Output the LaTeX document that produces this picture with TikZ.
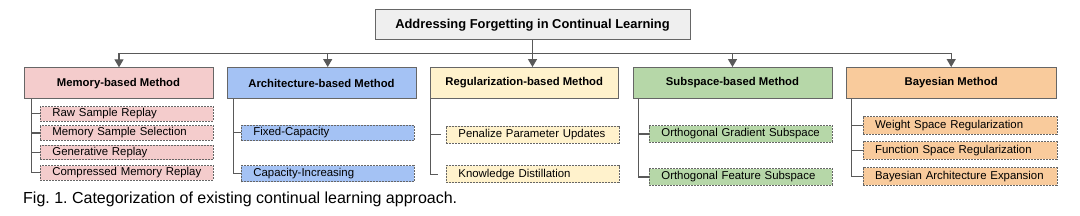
\documentclass[tikz,border=0pt]{standalone}
\usepackage{fontspec}
\setmainfont{Liberation Sans}
\usetikzlibrary{arrows.meta}
\frenchspacing
\definecolor{rootfill}{HTML}{EFEFEF}
\definecolor{memfill}{HTML}{F4CCCC}
\definecolor{archfill}{HTML}{A4C2F4}
\definecolor{regfill}{HTML}{FFF2CC}
\definecolor{subfill}{HTML}{B6D7A8}
\definecolor{bayfill}{HTML}{F9CB9C}
\definecolor{bordergray}{HTML}{666666}
\definecolor{linegray}{HTML}{595959}
\tikzset{
  rootbox/.style={draw=bordergray, fill=rootfill, line width=0.9pt, inner sep=0pt,
    minimum width=315pt, minimum height=29.5pt, font=\bfseries\fontsize{12.9}{15}\selectfont},
  hdrbox/.style={draw=bordergray, line width=0.9pt, inner sep=0pt,
    minimum height=31pt, font=\bfseries\fontsize{11.3}{13}\selectfont},
  leafbox/.style={draw=bordergray, dash pattern=on 2pt off 1pt, line width=0.8pt,
    inner xsep=12pt, inner ysep=0pt, align=left, anchor=west,
    font=\fontsize{11.4}{13}\selectfont},
  conn/.style={draw=linegray, line width=1.2pt},
  arr/.style={conn, -{Triangle[width=9pt,length=8pt]}},
  tree/.style={draw=linegray, line width=1.1pt},
}
\begin{document}
\begin{tikzpicture}[x=1pt, y=-1pt]
\useasboundingbox (0,0) rectangle (1080,216);
% root
\node[rootbox] (root) at (532.5,24.7) {Addressing Forgetting in Continual Learning};
% headers
\node[hdrbox, fill=memfill,  minimum width=189pt] (m) at (118.5,83.3) {Memory-based Method};
\node[hdrbox, fill=archfill, minimum width=189pt] (a) at (321.5,83.0) {Architecture-based Method};
\node[hdrbox, fill=regfill,  minimum width=188.5pt] (r) at (524.2,83.0) {Regularization-based Method};
\node[hdrbox, fill=subfill,  minimum width=199pt] (s) at (732.5,83.0) {Subspace-based Method};
\node[hdrbox, fill=bayfill,  minimum width=210.5pt] (b) at (951.2,83.0) {Bayesian Method};
% bar coordinates
\coordinate (b1) at (119,53.3);
\coordinate (b2) at (327.7,53.3);
\coordinate (b3) at (532.5,53.3);
\coordinate (b4) at (732.5,53.3);
\coordinate (b5) at (951.2,53.3);
\draw[conn] (root.south) -- (b3);
\draw[conn] (b1) -- (b5);
\draw[arr] (b1) -- (b1 |- m.north);
\draw[arr] (b2) -- (b2 |- a.north);
\draw[arr] (b3) -- (b3 |- r.north);
\draw[arr] (b4) -- (b4 |- s.north);
\draw[arr] (b5) -- (b5 |- b.north);
% memory leaves
\node[leafbox, fill=memfill, text width=149pt, minimum height=14.3pt] (m1) at (40,113.8) {Raw Sample Replay};
\node[leafbox, fill=memfill, text width=149pt, minimum height=14.3pt] (m2) at (40,133.0) {Memory Sample Selection};
\node[leafbox, fill=memfill, text width=149pt, minimum height=14.3pt] (m3) at (40,152.4) {Generative Replay};
\node[leafbox, fill=memfill, text width=149pt, minimum height=14.3pt] (m4) at (40,172.9) {Compressed Memory Replay};
\coordinate (mv) at ([xshift=8pt]m.south west);
\draw[tree] (mv) |- (m4.west);
\draw[tree] (mv |- m1.west) -- (m1.west);
\draw[tree] (mv |- m2.west) -- (m2.west);
\draw[tree] (mv |- m3.west) -- (m3.west);
% architecture leaves
\node[leafbox, fill=archfill, text width=149pt, minimum height=15.5pt] (a1) at (241,132.8) {Fixed-Capacity};
\node[leafbox, fill=archfill, text width=149pt, minimum height=16pt] (a2) at (241,173.8) {Capacity-Increasing};
\coordinate (av) at ([xshift=7pt]a.south west);
\draw[tree] (av) |- (a2.west);
\draw[tree] (av |- a1.west) -- (a1.west);
% regularization leaves
\node[leafbox, fill=regfill, text width=148.5pt, minimum height=17pt] (r1) at (446,134.5) {Penalize Parameter Updates};
\node[leafbox, fill=regfill, text width=148.5pt, minimum height=17pt] (r2) at (446,174.2) {Knowledge Distillation};
\coordinate (rv) at ([xshift=1pt]r.south west);
\draw[tree] (rv) |- ([xshift=-8pt]r2.west);
\draw[tree] (rv |- r1.west) -- ([xshift=-5pt]r1.west);
% subspace leaves
\node[leafbox, fill=subfill, text width=159pt, minimum height=16.5pt] (s1) at (649,134.0) {Orthogonal Gradient Subspace};
\node[leafbox, fill=subfill, text width=159pt, minimum height=16.5pt] (s2) at (649,177.0) {Orthogonal Feature Subspace};
\coordinate (sv) at ([xshift=5.5pt]s.south west);
\draw[tree] (sv) |- (s2.west);
\draw[tree] (sv |- s1.west) -- (s1.west);
% bayesian leaves
\node[leafbox, fill=bayfill, text width=169.8pt, minimum height=17.5pt] (y1) at (862.7,125.5) {Weight Space Regularization};
\node[leafbox, fill=bayfill, text width=169.8pt, minimum height=17.5pt] (y2) at (862.7,150.3) {Function Space Regularization};
\node[leafbox, fill=bayfill, text width=169.8pt, minimum height=17.5pt] (y3) at (862.7,176.4) {Bayesian Architecture Expansion};
\coordinate (yv) at ([xshift=6pt]b.south west);
\draw[tree] (yv) |- (y3.west);
\draw[tree] (yv |- y1.west) -- (y1.west);
\draw[tree] (yv |- y2.west) -- (y2.west);
% caption
\node[anchor=west, inner sep=0pt, font=\fontsize{16}{18}\selectfont] (cap) at (23,199.5) {Fig. 1. Categorization of existing continual learning approach.};
\end{tikzpicture}
\end{document}
